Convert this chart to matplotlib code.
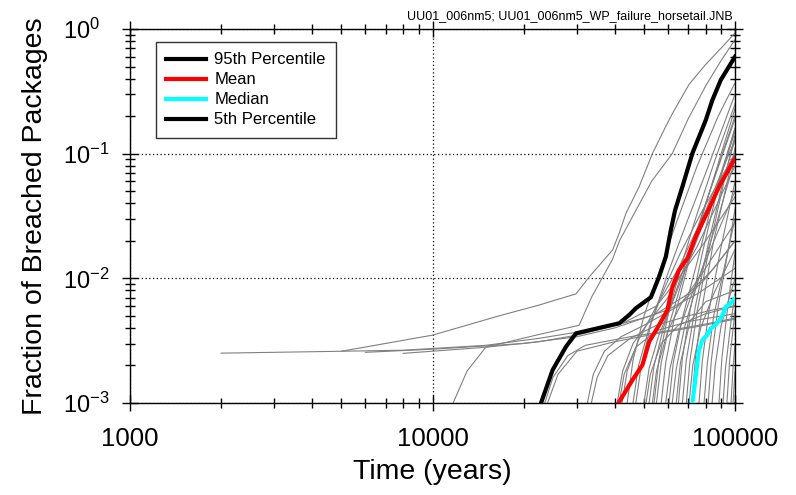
"""Horsetail plot: fraction of breached packages vs time (log-log)."""
import matplotlib
matplotlib.use("Agg")
import matplotlib.pyplot as plt
from matplotlib.ticker import LogLocator, NullFormatter

plt.rcParams["font.family"] = ["Liberation Sans", "DejaVu Sans"]
plt.rcParams["mathtext.default"] = "regular"
plt.rcParams["axes.unicode_minus"] = False

# --- statistics curves (time in years, fraction breached) ---
p95_t = [22840, 24950, 27620, 29810, 41420, 44670, 47010, 52710, 56110, 59060,
         61350, 63390, 66990, 72290, 80050, 84150, 89720, 100000]
p95_f = [0.001, 0.00184, 0.00283, 0.00362, 0.00436, 0.00508, 0.00575, 0.00705, 0.0103, 0.0149,
         0.0244, 0.0353, 0.0543, 0.1007, 0.186, 0.269, 0.390, 0.60]

mean_t = [41200, 45820, 49440, 52020, 56110, 59780, 62090, 65320, 69590, 74140,
          81640, 88560, 100000]
mean_f = [0.001, 0.00153, 0.00202, 0.0031, 0.00422, 0.00557, 0.00857, 0.01167, 0.01448, 0.0216,
          0.0353, 0.0543, 0.0918]

median_t = [72290, 74140, 76040, 77990, 81000, 83140, 86300, 90390, 93150, 96050, 100000]
median_f = [0.001, 0.00163, 0.00266, 0.0032, 0.00351, 0.00397, 0.00422, 0.00492, 0.00592, 0.00622, 0.00692]

# 5th percentile stays below 1e-3 over the whole window (not visible)
p5_t = []
p5_f = []

# --- individual realizations (gray) ---
gray_t = [
    [2000, 5000, 10000, 16600, 22500, 29800, 33000, 39400, 41400, 43600, 48200, 53300, 59000, 62100, 70500, 80000, 90800, 100000],
    [11700, 13000, 15000, 22000, 30500, 33700, 39300, 41500, 47000, 53000, 62000, 70000, 80000, 90000, 100000],
    [5000, 8000, 15000, 22500, 30000, 40000, 50000, 60000, 75000, 100000],
    [6000, 10000, 20000, 30000, 40000, 55000, 70000, 85000, 100000],
    [8000, 15000, 22500, 30000, 42000, 55000, 65000, 80000, 100000],
    [23500, 25000, 28000, 32000, 45000, 60000, 80000, 100000],
    [24000, 26000, 30000, 40000, 55000, 75000, 100000],
    [32500, 34000, 37000, 42000, 50000, 65000, 80000, 100000],
    [33500, 35000, 38000, 45000, 55000, 70000, 85000, 100000],
    [40800, 42500, 46000, 52000, 60000, 75000, 100000],
    [41400, 43000, 47000, 55000, 70000, 100000],
    [42300, 44000, 48000, 55000, 65000, 80000, 100000],
    [50000, 52000, 56000, 63000, 72000, 85000, 100000],
    [50800, 52500, 57000, 65000, 80000, 100000],
    [52000, 54000, 58000, 65000, 75000, 88000, 100000],
    [53300, 55000, 60000, 67000, 78000, 100000],
    [55000, 57000, 61000, 68000, 78000, 90000, 100000],
    [59000, 61000, 65000, 72000, 82000, 100000],
    [60500, 62500, 67000, 74000, 85000, 100000],
    [62000, 64000, 68000, 75000, 87000, 100000],
    [63900, 66000, 71000, 80000, 100000],
    [69000, 71000, 75000, 82000, 92000, 100000],
    [70500, 72500, 77000, 85000, 100000],
    [76000, 78000, 82000, 90000, 100000],
    [79000, 81000, 85000, 92000, 100000],
    [81500, 83500, 88000, 95000, 100000],
    [84000, 86000, 90000, 100000],
    [88500, 90500, 95000, 100000],
    [91300, 93000, 97000, 100000],
    [94000, 96000, 100000],
    [97000, 98500, 100000],
    [98500, 100000],
    [44000, 46000, 50000, 56000, 64000, 75000, 88000, 100000],
    [47000, 49000, 53000, 60000, 68000, 80000, 100000],
    [54000, 56000, 60000, 66000, 74000, 86000, 100000],
    [57000, 59000, 63000, 70000, 80000, 100000],
    [65000, 67000, 71000, 78000, 88000, 100000],
    [67000, 69000, 74000, 82000, 92000, 100000],
    [72000, 74000, 78000, 85000, 100000],
    [46000, 48000, 52000, 58000, 66000, 78000, 100000],
]
gray_f = [
    [0.00251, 0.0026, 0.0035, 0.0050, 0.0061, 0.0075, 0.0103, 0.0169, 0.023, 0.0332, 0.0543, 0.1, 0.165, 0.21, 0.36, 0.52, 0.72, 0.93],
    [0.001, 0.0018, 0.0028, 0.0035, 0.0042, 0.0072, 0.0141, 0.02, 0.035, 0.06, 0.1, 0.19, 0.35, 0.56, 0.82],
    [0.0026, 0.00265, 0.0029, 0.0033, 0.0037, 0.0042, 0.0048, 0.0056, 0.0075, 0.012],
    [0.00255, 0.0027, 0.003, 0.0034, 0.004, 0.0052, 0.0075, 0.012, 0.02],
    [0.0025, 0.0028, 0.0031, 0.0035, 0.0043, 0.006, 0.01, 0.02, 0.045],
    [0.001, 0.0016, 0.0024, 0.0029, 0.0034, 0.0038, 0.0043, 0.0048],
    [0.001, 0.0017, 0.0026, 0.0031, 0.0036, 0.0041, 0.0047],
    [0.001, 0.0017, 0.0026, 0.0034, 0.0042, 0.006, 0.01, 0.02],
    [0.001, 0.0016, 0.0024, 0.0033, 0.0042, 0.005, 0.0056, 0.006],
    [0.001, 0.0018, 0.003, 0.0045, 0.007, 0.018, 0.08],
    [0.001, 0.0017, 0.0028, 0.0038, 0.0045, 0.0052],
    [0.001, 0.0018, 0.0032, 0.006, 0.012, 0.035, 0.13],
    [0.001, 0.0019, 0.0035, 0.007, 0.016, 0.045, 0.15],
    [0.001, 0.0017, 0.003, 0.0042, 0.0052, 0.006],
    [0.001, 0.002, 0.004, 0.009, 0.025, 0.08, 0.2],
    [0.001, 0.0018, 0.0038, 0.0065, 0.011, 0.028],
    [0.001, 0.0021, 0.0045, 0.011, 0.032, 0.1, 0.23],
    [0.001, 0.0019, 0.0037, 0.0075, 0.016, 0.05],
    [0.001, 0.0021, 0.0048, 0.012, 0.045, 0.16],
    [0.001, 0.0019, 0.004, 0.009, 0.028, 0.09],
    [0.001, 0.0021, 0.0045, 0.0065, 0.008],
    [0.001, 0.0022, 0.0055, 0.017, 0.06, 0.14],
    [0.001, 0.002, 0.004, 0.0075, 0.017],
    [0.001, 0.0022, 0.0055, 0.018, 0.06],
    [0.001, 0.0021, 0.005, 0.012, 0.03],
    [0.001, 0.0022, 0.006, 0.017, 0.036],
    [0.001, 0.002, 0.0042, 0.01],
    [0.001, 0.0023, 0.0065, 0.016],
    [0.001, 0.0019, 0.0045, 0.0075],
    [0.001, 0.0022, 0.0055],
    [0.001, 0.0019, 0.003],
    [0.001, 0.0018],
    [0.001, 0.0022, 0.005, 0.011, 0.028, 0.08, 0.2, 0.37],
    [0.001, 0.002, 0.0045, 0.011, 0.025, 0.07, 0.3],
    [0.001, 0.0022, 0.005, 0.012, 0.03, 0.09, 0.25],
    [0.001, 0.0021, 0.0048, 0.013, 0.04, 0.19],
    [0.001, 0.0023, 0.0055, 0.016, 0.055, 0.16],
    [0.001, 0.0022, 0.006, 0.02, 0.065, 0.13],
    [0.001, 0.0023, 0.006, 0.02, 0.11],
    [0.001, 0.002, 0.004, 0.008, 0.016, 0.035, 0.1],
]

x_ticks = [1000, 10000, 100000]
x_tick_labels = ["1000", "10000", "100000"]
y_ticks = [1e-3, 1e-2, 1e-1, 1e0]
y_tick_labels = ["$10^{-3}$", "$10^{-2}$", "$10^{-1}$", "$10^{0}$"]

fig = plt.figure(figsize=(7.96, 4.95), dpi=100)
ax = fig.add_axes([0.1633, 0.1859, 0.7601, 0.7555])

for t, f in zip(gray_t, gray_f):
    ax.plot(t, f, color="#808080", lw=0.8, zorder=2)

ax.plot(p95_t, p95_f, color="black", lw=3.0, label="95th Percentile", zorder=4)
ax.plot(mean_t, mean_f, color="#ff0000", lw=3.0, label="Mean", zorder=4)
ax.plot(median_t, median_f, color="#00ffff", lw=3.0, label="Median", zorder=4)
ax.plot(p5_t, p5_f, color="black", lw=3.0, label="5th Percentile", zorder=4)

ax.set_xscale("log")
ax.set_yscale("log")
ax.set_xlim(1000, 100000)
ax.set_ylim(1e-3, 1)

ax.set_xticks(x_ticks)
ax.set_xticklabels(x_tick_labels)
ax.set_yticks(y_ticks)
ax.set_yticklabels(y_tick_labels)
ax.xaxis.set_minor_locator(LogLocator(base=10, subs=range(2, 10), numticks=20))
ax.yaxis.set_minor_locator(LogLocator(base=10, subs=range(2, 10), numticks=20))
ax.xaxis.set_minor_formatter(NullFormatter())
ax.yaxis.set_minor_formatter(NullFormatter())

ax.tick_params(which="both", top=True, right=True, direction="inout", width=1.0, color="black")
ax.tick_params(axis="x", which="major", length=12, pad=11, labelsize=18.5)
ax.tick_params(axis="x", which="minor", length=7)
ax.tick_params(axis="y", which="major", length=12, pad=42, labelsize=17)
ax.tick_params(axis="y", which="minor", length=7)
for lab in ax.get_yticklabels():
    lab.set_horizontalalignment("left")

for s in ax.spines.values():
    s.set_linewidth(1.0)

ax.grid(True, which="major", linestyle=(0, (1, 2)), color="black", linewidth=0.9)

ax.set_xlabel("Time (years)", fontsize=20.5)
ax.set_ylabel("Fraction of Breached Packages", fontsize=20.5)
ax.xaxis.set_label_coords(0.5, -0.151)
ax.yaxis.set_label_coords(-0.1355, 0.5)

leg = ax.legend(loc="upper left", bbox_to_anchor=(0.0425, 0.965), borderaxespad=0,
                fontsize=12, frameon=True, fancybox=False, handlelength=2.4,
                handletextpad=0.5, labelspacing=0.3, borderpad=0.62)
leg.get_frame().set_edgecolor("black")
leg.get_frame().set_linewidth(1.0)

fig.text(733 / 796, 1 - 19.5 / 495, "UU01_006nm5; UU01_006nm5_WP_failure_horsetail.JNB",
         fontsize=9, ha="right", va="baseline")

fig.savefig("out.png", dpi=100)
